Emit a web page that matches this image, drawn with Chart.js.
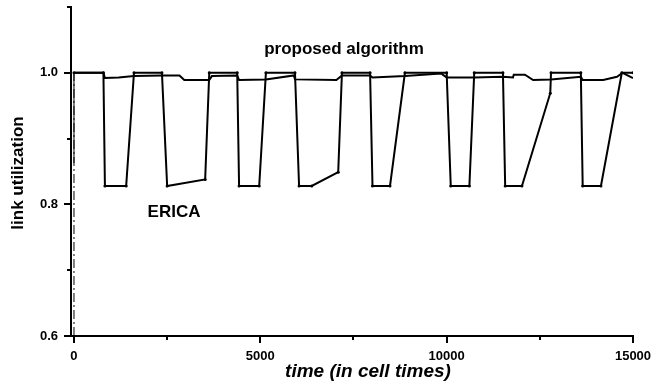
<!DOCTYPE html>
<html>
<head>
<meta charset="utf-8">
<script src="https://cdn.jsdelivr.net/npm/chart.js@4.4.1/dist/chart.umd.min.js"></script>
<style>
  body { margin: 0; background: #fff; }
  canvas { display: block; }
</style>
</head>
<body>
<canvas id="grafico" width="655" height="389"></canvas>
<script>
// ERICA: tempo (cell times) e utilização do link
const ericaTempo = [0, 790, 830, 1400, 1610, 2360, 2500, 3520, 3630, 4380, 4430, 4970, 5150, 5930, 6040, 6380, 7090, 7190,
    7945, 8010, 8480, 8880, 10000, 10110, 10610, 10740, 11510, 11570, 12020, 12780, 12800, 13600, 13650, 14140, 14700, 15000];
const ericaUtil = [1.0, 1.0, 0.828, 0.828, 1.0, 1.0, 0.828, 0.838, 1.0, 1.0, 0.828, 0.828, 1.0, 1.0, 0.828, 0.828, 0.849, 1.0,
    1.0, 0.828, 0.828, 1.0, 1.0, 0.828, 0.828, 1.0, 1.0, 0.828, 0.828, 0.969, 1.0, 1.0, 0.828, 0.828, 1.0, 1.0];

// Algoritmo proposto (começa em 0.863 no instante 0)
const propTempo = [0, 0, 790, 830, 1200, 1610, 2360, 2830, 2960, 3630, 3700, 4380, 4430, 5150, 5900, 5930, 7040, 7190, 7945,
    8010, 8880, 9850, 10000, 10740, 11510, 11780, 11800, 12100, 12320, 12800, 13600, 13650, 14200, 14570, 14720, 15000];
const propUtil = [0.863, 1.0, 1.0, 0.992, 0.993, 0.995, 0.996, 0.996, 0.989, 0.989, 0.995, 0.996, 0.989, 0.990, 0.996, 0.990, 0.989, 0.996, 0.996,
    0.993, 0.995, 0.999, 0.993, 0.993, 0.994, 0.993, 0.997, 0.997, 0.989, 0.990, 0.994, 0.989, 0.989, 0.994, 1.0, 0.992];

// Arranque no instante 0
const partidaTempo = [0, 0];
const partidaUtil = [0.6, 1.0];

// Marcas dos eixos
const ticksX = [0, 2500, 5000, 7500, 10000, 12500, 15000];
const ticksY = [0.6, 0.7, 0.8, 0.9, 1.0, 1.1];

function pontos(tempos, valores) {
    return tempos.map((t, i) => ({ x: t, y: valores[i] }));
}

// Sem margens extras nas escalas, a área do gráfico fica fixa
function semMargens(s) {
    s.paddingTop = 0;
    s.paddingBottom = 0;
    s.paddingLeft = 0;
    s.paddingRight = 0;
}

const fonte = 'Liberation Sans, Arial, sans-serif';

// Marcas dos eixos e textos do gráfico
const marcasEtextos = {
    id: 'marcasEtextos',
    afterDraw(chart) {
        const ctx = chart.ctx;
        const { x, y } = chart.scales;
        const area = chart.chartArea;
        ctx.save();
        ctx.strokeStyle = '#000';
        ctx.lineWidth = 2;
        ctx.beginPath();
        x.ticks.forEach(t => {
            const px = Math.round(x.getPixelForValue(t.value));
            const len = t.value % 5000 === 0 ? 7 : 4;
            ctx.moveTo(px, area.bottom);
            ctx.lineTo(px, area.bottom + len);
        });
        y.ticks.forEach(t => {
            const py = Math.round(y.getPixelForValue(t.value));
            const len = Math.round(t.value * 10) % 2 === 0 ? 7 : 4;
            ctx.moveTo(area.left, py);
            ctx.lineTo(area.left - len, py);
        });
        ctx.stroke();

        ctx.fillStyle = '#000';
        ctx.textAlign = 'center';
        ctx.textBaseline = 'alphabetic';
        ctx.font = 'bold 17px ' + fonte;
        ctx.fillText('proposed algorithm', 344, 54);
        ctx.fillText('ERICA', 174, 217);

        ctx.font = 'italic bold 19px ' + fonte;
        ctx.fillText('time (in cell times)', 368, 377);

        ctx.translate(23, 173);
        ctx.rotate(-Math.PI / 2);
        ctx.font = 'bold 17px ' + fonte;
        ctx.fillText('link utilization', 0, 0);
        ctx.restore();
    }
};

const ctxGrafico = document.getElementById('grafico').getContext('2d');
const grafico = new Chart(ctxGrafico, {
    type: 'scatter',
    data: {
        datasets: [{
            label: 'arranque',
            data: pontos(partidaTempo, partidaUtil),
            showLine: true,
            borderColor: '#000',
            borderWidth: 1,
            borderDash: [9, 3, 2, 3],
            pointRadius: 0
        }, {
            label: 'proposed algorithm',
            data: pontos(propTempo, propUtil),
            showLine: true,
            borderColor: '#000',
            borderWidth: 2,
            pointRadius: 0,
            // subida inicial mais fina
            segment: { borderWidth: c => (c.p0DataIndex === 0 ? 1 : 2) }
        }, {
            label: 'ERICA',
            data: pontos(ericaTempo, ericaUtil),
            showLine: true,
            borderColor: '#000',
            borderWidth: 2,
            pointRadius: 1.5,
            pointBackgroundColor: '#000',
            pointBorderWidth: 0
        }]
    },
    options: {
        responsive: false,
        animation: false,
        devicePixelRatio: 1,
        layout: { padding: { left: 0, right: 22, top: 7, bottom: 0 } },
        plugins: {
            legend: { display: false },
            tooltip: { enabled: false }
        },
        scales: {
            x: {
                type: 'linear',
                min: -80,
                max: 15000,
                afterBuildTicks: s => { s.ticks = ticksX.map(v => ({ value: v })); },
                afterFit: s => { s.height = 53; semMargens(s); },
                grid: { drawOnChartArea: false, drawTicks: false },
                border: { display: true, color: '#000', width: 2 },
                ticks: {
                    autoSkip: false,
                    maxRotation: 0,
                    padding: 13,
                    color: '#000',
                    font: { family: fonte, size: 13, weight: 'bold' },
                    callback: v => (v % 5000 === 0 ? String(v) : '')
                }
            },
            y: {
                min: 0.6,
                max: 1.1,
                afterBuildTicks: s => { s.ticks = ticksY.map(v => ({ value: v })); },
                afterFit: s => { s.width = 71; semMargens(s); },
                grid: { drawOnChartArea: false, drawTicks: false },
                border: { display: true, color: '#000', width: 2 },
                ticks: {
                    autoSkip: false,
                    padding: 13,
                    color: '#000',
                    font: { family: fonte, size: 13, weight: 'bold' },
                    callback: v => (Math.round(v * 10) % 2 === 0 && v < 1.05 ? v.toFixed(1) : '')
                }
            }
        }
    },
    plugins: [marcasEtextos]
});
</script>
</body>
</html>
